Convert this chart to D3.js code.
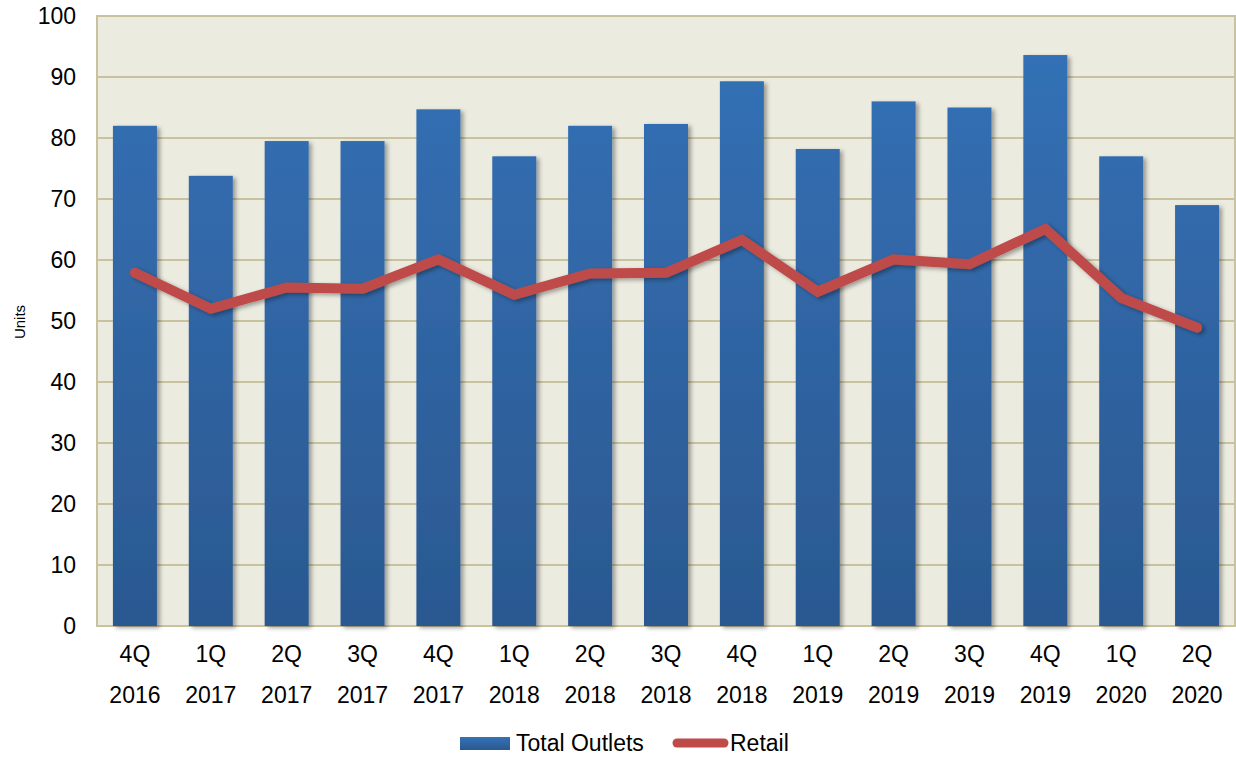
<!DOCTYPE html>
<html>
<head>
<meta charset="utf-8">
<script src="https://cdn.jsdelivr.net/npm/d3@7"></script>
<style>
  html, body { margin: 0; padding: 0; background: #ffffff; }
  svg { display: block; font-family: "Liberation Sans", Arial, sans-serif; }
</style>
</head>
<body>
<svg id="chart" width="1236" height="759"></svg>
<script>
// Quarter labels (two lines each)
const quarters = ["4Q", "1Q", "2Q", "3Q", "4Q", "1Q", "2Q", "3Q", "4Q", "1Q", "2Q", "3Q", "4Q", "1Q", "2Q"];
const years    = ["2016", "2017", "2017", "2017", "2017", "2018", "2018", "2018", "2018", "2019", "2019", "2019", "2019", "2020", "2020"];

// Series values
const totalOutlets = [82.0, 73.8, 79.5, 79.5, 84.7, 77.0, 82.0, 82.3, 89.3, 78.2, 86.0, 85.0, 93.6, 77.0, 69.0];
const retail       = [57.9, 52.0, 55.5, 55.3, 60.1, 54.3, 57.8, 57.9, 63.3, 54.8, 60.1, 59.3, 65.1, 53.8, 48.9];

// Axis ticks
const yTicks = [0, 10, 20, 30, 40, 50, 60, 70, 80, 90, 100];

const FONT = "Liberation Sans, Arial, sans-serif";
const svg = d3.select("#chart");
const margin = { left: 97, right: 1235, top: 16, bottom: 626 };

const keys = quarters.map((q, i) => i);
const x = d3.scaleBand().domain(keys).range([margin.left, margin.right]).paddingInner(0.42).paddingOuter(0.21);
const y = d3.scaleLinear().domain([0, 100]).range([margin.bottom, margin.top]);

const defs = svg.append("defs");
const grad = defs.append("linearGradient").attr("id", "barGrad")
  .attr("gradientUnits", "userSpaceOnUse")
  .attr("x1", 0).attr("x2", 0)
  .attr("y1", margin.top).attr("y2", margin.bottom);
grad.append("stop").attr("offset", "0%").attr("stop-color", "#3472b8");
grad.append("stop").attr("offset", "100%").attr("stop-color", "#2b5890");

const lg = defs.append("linearGradient").attr("id", "legGrad").attr("x1", 0).attr("y1", 0).attr("x2", 0).attr("y2", 1);
lg.append("stop").attr("offset", "0%").attr("stop-color", "#3472b8");
lg.append("stop").attr("offset", "100%").attr("stop-color", "#2b5890");

const shadow = defs.append("filter").attr("id", "shadow")
  .attr("x", "-20%").attr("y", "-20%").attr("width", "150%").attr("height", "150%");
shadow.append("feDropShadow").attr("dx", 3).attr("dy", 2).attr("stdDeviation", 2.2)
  .attr("flood-color", "#000").attr("flood-opacity", 0.35);

// Plot background
svg.append("rect")
  .attr("x", margin.left).attr("y", margin.top)
  .attr("width", margin.right - margin.left).attr("height", margin.bottom - margin.top)
  .attr("fill", "#ecebe0");

// Gridlines
svg.append("g").selectAll("line").data(yTicks.filter(d => d > 0 && d < 100)).join("line")
  .attr("x1", margin.left).attr("x2", margin.right)
  .attr("y1", d => y(d)).attr("y2", d => y(d))
  .attr("stroke", "#c9c29f").attr("stroke-width", 2);

// Plot border
svg.append("rect")
  .attr("x", margin.left).attr("y", margin.top)
  .attr("width", margin.right - margin.left).attr("height", margin.bottom - margin.top)
  .attr("fill", "none").attr("stroke", "#c9c29f").attr("stroke-width", 2);

// Bars
svg.append("g").attr("filter", "url(#shadow)")
  .selectAll("rect").data(totalOutlets).join("rect")
  .attr("x", (d, i) => x(i)).attr("width", x.bandwidth())
  .attr("y", d => y(d)).attr("height", d => y(0) - y(d))
  .attr("fill", "url(#barGrad)");

// Retail line
const line = d3.line().x((d, i) => x(i) + x.bandwidth() / 2).y(d => y(d));
svg.append("path").datum(retail)
  .attr("d", line)
  .attr("fill", "none").attr("stroke", "#be4b48").attr("stroke-width", 10)
  .attr("stroke-linecap", "round").attr("stroke-linejoin", "miter")
  .attr("filter", "url(#shadow)");

// Y axis labels
const yAxis = d3.axisLeft(y).tickValues(yTicks).tickSize(0).tickPadding(21);
const yg = svg.append("g").attr("transform", `translate(${margin.left},0)`).call(yAxis);
yg.select(".domain").remove();
yg.selectAll("text").attr("font-size", 23).attr("fill", "#000").attr("font-family", FONT);

// Y axis title
svg.append("text")
  .attr("transform", "translate(25,322) rotate(-90)")
  .attr("text-anchor", "middle").attr("font-size", 15).attr("fill", "#000")
  .attr("font-family", FONT)
  .text("Units");

// X axis labels
const xAxis = d3.axisBottom(x).tickSize(0).tickFormat(() => "");
const xg = svg.append("g").attr("transform", `translate(0,${margin.bottom})`).call(xAxis);
xg.select(".domain").remove();
xg.selectAll(".tick").each(function(d) {
  const t = d3.select(this);
  t.append("text").attr("y", 36).attr("text-anchor", "middle").attr("font-size", 23).attr("fill", "#000")
    .attr("font-family", FONT).text(quarters[d]);
  t.append("text").attr("y", 77).attr("text-anchor", "middle").attr("font-size", 23).attr("fill", "#000")
    .attr("font-family", FONT).text(years[d]);
});

// Legend
const legend = svg.append("g");
legend.append("rect").attr("x", 460).attr("y", 737).attr("width", 50).attr("height", 13).attr("fill", "url(#legGrad)");
legend.append("text").attr("x", 516).attr("y", 751).attr("font-size", 23).attr("fill", "#000")
  .attr("font-family", FONT).text("Total Outlets");
legend.append("line").attr("x1", 677).attr("x2", 724).attr("y1", 743).attr("y2", 743)
  .attr("stroke", "#be4b48").attr("stroke-width", 9).attr("stroke-linecap", "round");
legend.append("text").attr("x", 730).attr("y", 751).attr("font-size", 23).attr("fill", "#000")
  .attr("font-family", FONT).text("Retail");
</script>
</body>
</html>
